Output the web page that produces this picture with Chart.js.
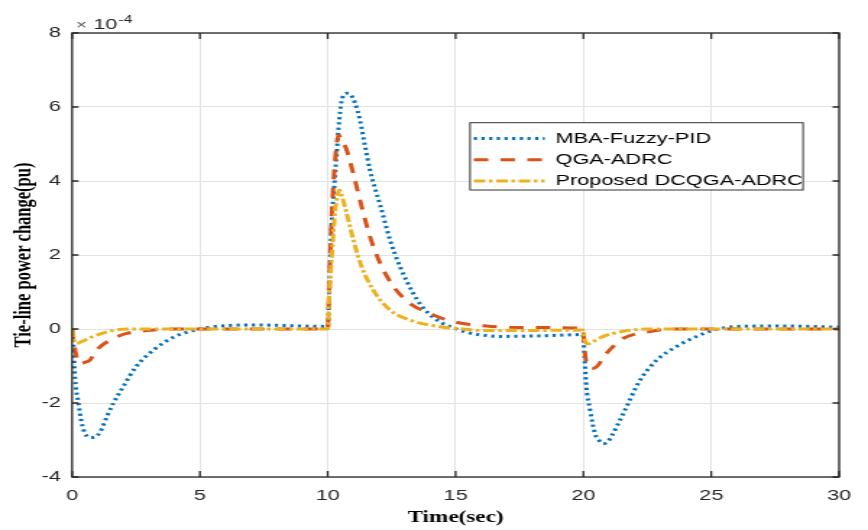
<!DOCTYPE html>
<html>
<head>
<meta charset="utf-8">
<script src="https://cdn.jsdelivr.net/npm/chart.js@4"></script>
<style>
body { margin: 0; background: #fff; }
/* the source figure is stretched horizontally, so the whole canvas is too */
#chart { transform: scaleX(1.44667); transform-origin: 0 0; }
</style>
</head>
<body>
<canvas id="chart" width="600" height="530"></canvas>
<script>
// values in units of 1e-4 pu
let mbaTime = [0, 0.05, 0.12, 0.25, 0.38, 0.51, 0.68, 0.85, 1.1, 1.36, 1.62, 2.0, 2.5, 3.2, 4.0, 4.7, 5.3, 6.0, 7.0, 8.0, 9.0, 10.0,
    10.05, 10.1, 10.16, 10.25, 10.35, 10.45, 10.57, 10.75, 10.87, 11.07, 11.26, 11.45, 11.65, 11.85, 12.05, 12.44, 12.83, 13.34,
    13.7, 14.1, 14.5, 15.04, 15.5, 16.0, 16.7, 18.0, 19.0, 19.98, 20.04, 20.1, 20.26, 20.45, 20.6, 20.78, 20.95, 21.1, 21.3,
    21.69, 22.2, 22.87, 23.65, 24.43, 25.1, 26.0, 27.8, 30];
let mbaValues = [0, -0.4, -1.35, -2.0, -2.55, -2.82, -2.93, -2.93, -2.78, -2.37, -2.0, -1.56, -1.02, -0.56, -0.21, -0.05, 0.04, 0.09, 0.11, 0.1, 0.08, 0.07,
    0.8, 1.9, 2.9, 3.8, 4.75, 5.65, 6.24, 6.37, 6.35, 6.1, 5.65, 4.98, 4.3, 3.8, 3.35, 2.4, 1.68, 0.97,
    0.6, 0.33, 0.15, 0.0, -0.1, -0.16, -0.2, -0.19, -0.17, -0.15, -0.7, -1.45, -2.19, -2.82, -3.0, -3.1, -3.05, -2.9, -2.64,
    -2.1, -1.4, -0.84, -0.47, -0.2, -0.03, 0.07, 0.08, 0.05];

let qgaTime = [0, 0.1, 0.3, 0.5, 0.7, 0.96, 1.49, 2.14, 3.17, 4.0, 10.0, 10.05, 10.1, 10.18, 10.29, 10.36, 10.42, 10.55, 10.74, 11.0,
    11.26, 11.65, 12.05, 12.57, 13.22, 14.13, 14.9, 16.2, 17.5, 19.98, 20.04, 20.1, 20.2, 20.39, 20.55, 20.85, 21.2, 21.56, 22.6, 23.5, 30];
let qgaValues = [0, -0.5, -0.93, -0.9, -0.84, -0.57, -0.3, -0.12, -0.03, 0, 0, 0.9, 2.0, 3.4, 4.57, 5.05, 5.24, 5.1, 4.84, 4.2,
    3.49, 2.5, 1.78, 1.15, 0.69, 0.38, 0.2, 0.08, 0.04, 0.02, -0.5, -0.85, -1.0, -1.06, -1.0, -0.7, -0.45, -0.25, -0.07, 0, 0];

let dcqgaTime = [0, 0.08, 0.18, 0.4, 0.83, 1.6, 2.5, 10.0, 10.05, 10.15, 10.29, 10.38, 10.45, 10.55, 10.74, 11.0, 11.33, 11.78, 12.44, 13.22,
    14.4, 15.3, 16.0, 18.0, 19.98, 20.05, 20.19, 20.4, 20.78, 21.56, 22.5, 30];
let dcqgaValues = [0, -0.3, -0.39, -0.33, -0.2, -0.04, 0, 0, 0.8, 1.86, 3.2, 3.6, 3.76, 3.6, 3.13, 2.41, 1.68, 1.05, 0.51, 0.24,
    0.06, 0, -0.04, -0.04, -0.03, -0.3, -0.4, -0.33, -0.2, -0.06, 0, 0];

let seriesNames = ['MBA-Fuzzy-PID', 'QGA-ADRC', 'Proposed DCQGA-ADRC'];
let xTicks = [0, 5, 10, 15, 20, 25, 30];
let yTicks = [-4, -2, 0, 2, 4, 6, 8];
let exponentText = '-4';

let sansFont = "'Liberation Sans', Arial, sans-serif";
let serifFont = "'Liberation Serif', 'Times New Roman', serif";

function toPoints(xs, ys) {
    return xs.map((x, i) => ({ x: x, y: ys[i] }));
}

let matlabFrame = {
    id: 'matlabFrame',
    afterLayout(chart) {
        // put the legend inside the axes, upper right
        let lg = chart.legend;
        lg.left = 321.3;
        lg.top = 122.3;
        lg.width = 240;
        lg.height = 75;
        lg.right = lg.left + lg.width;
        lg.bottom = lg.top + lg.height;
    },
    beforeDatasetsDraw(chart) {
        let ctx = chart.ctx;
        ctx.save();
        ctx.fillStyle = '#fff';
        ctx.fillRect(324.9, 122.7, 230.2, 67.3);
        ctx.strokeStyle = '#333';
        ctx.lineWidth = 1;
        ctx.strokeRect(324.9, 122.7, 230.2, 67.3);
        ctx.restore();
        chart.legend.draw();
    },
    afterDraw(chart) {
        let ctx = chart.ctx;
        let a = chart.chartArea;
        let xs = chart.scales.x;
        let ys = chart.scales.y;
        ctx.save();
        ctx.strokeStyle = '#262626';
        ctx.lineWidth = 1.3;
        ctx.strokeRect(a.left, a.top, a.right - a.left, a.bottom - a.top);

        ctx.beginPath();
        xTicks.forEach(v => {
            let px = xs.getPixelForValue(v);
            ctx.moveTo(px, a.bottom); ctx.lineTo(px, a.bottom - 6);
            ctx.moveTo(px, a.top); ctx.lineTo(px, a.top + 6);
        });
        yTicks.forEach(v => {
            let py = ys.getPixelForValue(v);
            ctx.moveTo(a.left, py); ctx.lineTo(a.left + 4.5, py);
            ctx.moveTo(a.right, py); ctx.lineTo(a.right - 4.5, py);
        });
        ctx.stroke();

        // x10^-4 multiplier above the y axis
        ctx.textBaseline = 'alphabetic';
        ctx.textAlign = 'left';
        ctx.font = '13px ' + sansFont;
        ctx.fillStyle = '#555';
        ctx.fillText('\u00d7', 52.5, 28.5);
        ctx.fillStyle = '#262626';
        ctx.font = '15px ' + sansFont;
        ctx.fillText('10', 64.5, 29.3);
        ctx.font = '11px ' + sansFont;
        ctx.fillText(exponentText, 81.8, 22.5);
        ctx.restore();
    }
};

let chart = new Chart(document.getElementById('chart'), {
    type: 'line',
    data: {
        datasets: [
            {
                label: seriesNames[0],
                data: toPoints(mbaTime, mbaValues),
                borderColor: '#0072BD',
                backgroundColor: '#0072BD',
                borderWidth: 3,
                borderDash: [2.2, 3.1],
                order: 3
            },
            {
                label: seriesNames[1],
                data: toPoints(qgaTime, qgaValues),
                borderColor: '#D95319',
                backgroundColor: '#D95319',
                borderWidth: 3,
                borderDash: [10, 8.5],
                order: 2
            },
            {
                label: seriesNames[2],
                data: toPoints(dcqgaTime, dcqgaValues),
                borderColor: '#EDB120',
                backgroundColor: '#EDB120',
                borderWidth: 3,
                borderDash: [8, 2.5, 2.5, 2.5],
                order: 1
            }
        ]
    },
    options: {
        responsive: false,
        animation: false,
        events: [],
        layout: { padding: { left: 0, top: 33, right: 20, bottom: 0 } },
        elements: {
            point: { radius: 0 },
            line: { cubicInterpolationMode: 'monotone', fill: false }
        },
        scales: {
            x: {
                type: 'linear',
                min: 0,
                max: 30,
                afterFit: s => { s.height = 53; },
                afterBuildTicks: s => { s.ticks = xTicks.map(v => ({ value: v })); },
                grid: { color: '#e3e3e3', lineWidth: 1, drawTicks: false },
                border: { display: false },
                ticks: { padding: 10, color: '#262626', font: { family: sansFont, size: 15 } },
                title: {
                    display: true,
                    text: 'Time(sec)',
                    color: '#000',
                    padding: { top: 0, bottom: 2.4 },
                    font: { family: serifFont, size: 16, weight: 'bold' }
                }
            },
            y: {
                min: -4,
                max: 8,
                afterFit: s => { s.width = 49.8; },
                afterBuildTicks: s => { s.ticks = yTicks.map(v => ({ value: v })); },
                grid: { color: '#e3e3e3', lineWidth: 1, drawTicks: false },
                border: { display: false },
                ticks: { padding: 7.6, color: '#262626', font: { family: sansFont, size: 15 } },
                title: {
                    display: true,
                    text: 'Tie-line power change(pu)',
                    color: '#000',
                    padding: { top: 6.5, bottom: 0 },
                    font: { family: serifFont, size: 16.5, weight: 'bold' }
                }
            }
        },
        plugins: {
            tooltip: { enabled: false },
            legend: {
                position: 'chartArea',
                labels: {
                    usePointStyle: true,
                    pointStyle: 'line',
                    pointStyleWidth: 49,
                    boxWidth: 49,
                    padding: 6.2,
                    color: '#000',
                    font: { family: sansFont, size: 15 },
                    generateLabels: c => c.data.datasets.map((ds, i) => ({
                        text: ds.label,
                        fillStyle: ds.borderColor,
                        strokeStyle: ds.borderColor,
                        lineWidth: ds.borderWidth,
                        lineDash: ds.borderDash,
                        lineCap: 'butt',
                        pointStyle: 'line',
                        fontColor: '#000',
                        hidden: false,
                        datasetIndex: i
                    }))
                }
            }
        }
    },
    plugins: [matlabFrame]
});
</script>
</body>
</html>
